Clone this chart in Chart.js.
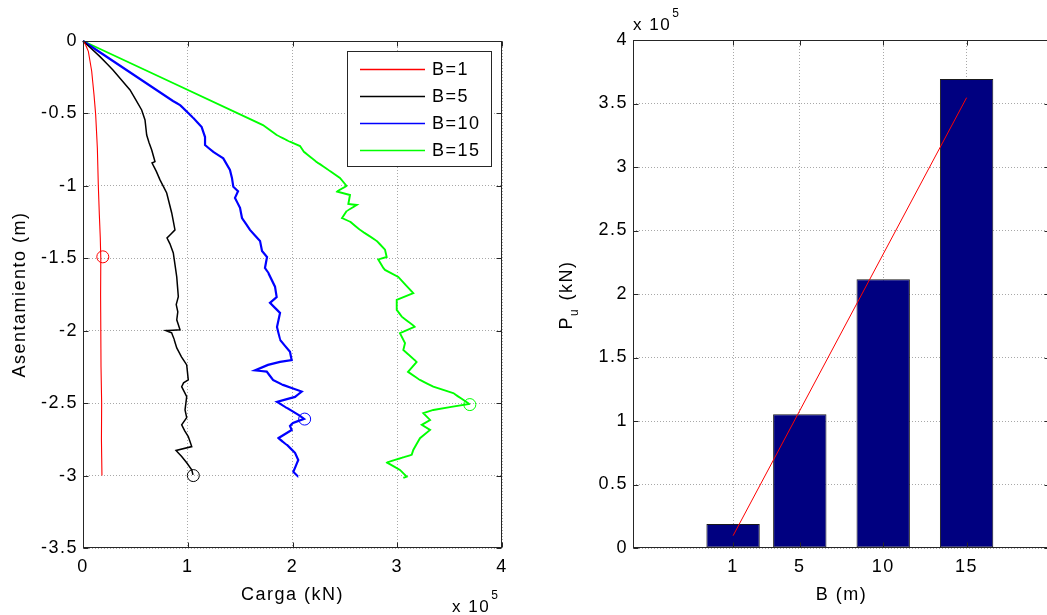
<!DOCTYPE html>
<html>
<head>
<meta charset="utf-8">
<script src="https://cdn.jsdelivr.net/npm/chart.js@4.4.1/dist/chart.umd.min.js"></script>
<style>
  html, body { margin: 0; padding: 0; background: #fff; overflow: hidden; width: 1047px; height: 615px; }
  #izq { position: absolute; left: 0; top: 0; }
  #der { position: absolute; left: 520px; top: 0; }
</style>
</head>
<body>
<canvas id="izq" width="520" height="615"></canvas>
<canvas id="der" width="545" height="615"></canvas>
<script>
// Curvas carga–asentamiento. Carga en unidades de 1e5 kN, asentamiento en m.
const cargaB1 = [0, 0.02, 0.051, 0.083, 0.105, 0.121, 0.137, 0.146, 0.156, 0.165, 0.17, 0.168, 0.17, 0.172, 0.178, 0.176, 0.181];
const asentB1 = [0, -0.02, -0.071, -0.209, -0.37, -0.509, -0.738, -0.992, -1.199, -1.36, -1.5, -1.75, -2.0, -2.25, -2.5, -2.75, -3.0];

const cargaB5 = [0, 0.162, 0.286, 0.449, 0.56, 0.592, 0.608, 0.63, 0.656, 0.687, 0.659, 0.70, 0.735, 0.799, 0.847, 0.878, 0.802, 0.83, 0.862, 0.895, 0.91, 0.89, 0.905, 0.895, 0.926, 0.792, 0.847, 0.87, 0.895, 0.94, 0.99, 1.005, 0.96, 0.942, 0.99, 0.974, 0.99, 0.942, 0.97, 1.005, 1.038, 0.888, 0.942, 0.99, 1.038, 1.05];
const asentB5 = [0, -0.108, -0.2, -0.338, -0.476, -0.545, -0.649, -0.70, -0.752, -0.833, -0.842, -0.90, -0.959, -1.049, -1.187, -1.304, -1.36, -1.40, -1.463, -1.629, -1.765, -1.82, -1.87, -1.925, -1.994, -1.999, -2.015, -2.06, -2.119, -2.18, -2.236, -2.34, -2.36, -2.386, -2.455, -2.547, -2.6, -2.65, -2.69, -2.731, -2.8, -2.827, -2.869, -2.912, -2.961, -2.995];

const cargaB10 = [0, 0.859, 0.926, 1.053, 1.133, 1.165, 1.165, 1.244, 1.339, 1.403, 1.422, 1.435, 1.48, 1.451, 1.499, 1.518, 1.594, 1.69, 1.709, 1.757, 1.737, 1.769, 1.833, 1.849, 1.785, 1.881, 1.852, 1.881, 1.976, 1.992, 1.881, 1.766, 1.642, 1.754, 1.814, 1.909, 2.088, 2.024, 1.852, 1.947, 2.072, 2.11, 2.005, 1.976, 1.992, 1.864, 1.947, 2.024, 2.055, 2.024, 2.008, 2.055];
const asentB10 = [0, -0.414, -0.442, -0.531, -0.594, -0.663, -0.718, -0.766, -0.81, -0.89, -0.945, -1.006, -1.037, -1.083, -1.152, -1.222, -1.304, -1.38, -1.449, -1.491, -1.567, -1.601, -1.696, -1.767, -1.808, -1.877, -1.974, -2.063, -2.146, -2.202, -2.215, -2.236, -2.274, -2.282, -2.34, -2.374, -2.42, -2.457, -2.491, -2.533, -2.588, -2.609, -2.636, -2.657, -2.685, -2.742, -2.788, -2.843, -2.892, -2.947, -2.974, -3.009];

const cargaB15 = [0, 1.718, 1.849, 1.976, 2.072, 2.11, 2.231, 2.358, 2.453, 2.517, 2.422, 2.549, 2.533, 2.613, 2.517, 2.473, 2.549, 2.644, 2.804, 2.883, 2.899, 2.819, 2.867, 2.883, 3.01, 3.153, 2.995, 2.995, 3.043, 3.169, 3.026, 3.074, 3.058, 3.186, 3.103, 3.217, 3.344, 3.535, 3.688, 3.344, 3.249, 3.313, 3.234, 3.313, 3.217, 3.153, 3.138, 2.899, 3.026, 3.09, 3.058];
const asentB15 = [0, -0.58, -0.649, -0.695, -0.725, -0.766, -0.835, -0.897, -0.945, -1.001, -1.039, -1.063, -1.125, -1.132, -1.173, -1.222, -1.246, -1.304, -1.38, -1.44, -1.491, -1.508, -1.567, -1.58, -1.629, -1.741, -1.787, -1.856, -1.903, -1.972, -2.017, -2.086, -2.133, -2.215, -2.284, -2.34, -2.386, -2.431, -2.505, -2.547, -2.569, -2.616, -2.65, -2.685, -2.742, -2.823, -2.857, -2.909, -2.961, -3.007, -3.016];

// Ancho B (m), carga última Pu (1e5 kN) y asentamiento en el que se alcanza
const anchosB = [1, 5, 10, 15];
const etiquetas = ['B=1', 'B=5', 'B=10', 'B=15'];
const cargaUltima = [0.189, 1.053, 2.116, 3.693];
const asentUltimo = [-1.49, -3.0, -2.61, -2.51];

// Recta de ajuste Pu–B
const ajusteB = [1, 15];
const ajustePu = [0.097, 3.546];

// Marcas de los ejes
const ticksCarga = [0, 1, 2, 3, 4];
const ticksAsent = [0, -0.5, -1, -1.5, -2, -2.5, -3, -3.5];
const ticksPu = [0, 0.5, 1, 1.5, 2, 2.5, 3, 3.5, 4];

const colores = ['#ff0000', '#000000', '#0000ff', '#00ff00'];
const grosores = [1.1, 1.5, 2.2, 1.9];
const FUENTE = '"Liberation Sans", Arial, Helvetica, sans-serif';
const ESPACIADO = '1.5px';
const EJE = '#262626';
const REJILLA = '#a8a8a8';

Chart.defaults.font.family = FUENTE;
Chart.defaults.color = '#000';
Chart.defaults.animation = false;

const pares = (xs, ys) => xs.map((x, i) => ({ x: x, y: ys[i] }));
const fmt = v => String(Number(v.toFixed(2)));

// Texto algo espaciado en todo el lienzo
const espaciado = {
  id: 'espaciado',
  beforeInit(chart) { chart.ctx.letterSpacing = ESPACIADO; },
  beforeLayout(chart) { chart.ctx.letterSpacing = ESPACIADO; },
  beforeDraw(chart) { chart.ctx.letterSpacing = ESPACIADO; }
};

// Caja del eje con marcas hacia dentro
const marco = {
  id: 'marco',
  afterDatasetsDraw(chart) {
    const { ctx, chartArea: a, scales: { x, y } } = chart;
    const L = Math.round(a.left) + 0.5, R = Math.round(a.right) - 0.5;
    const T = Math.round(a.top) + 0.5, B = Math.round(a.bottom) - 0.5;
    ctx.save();
    ctx.strokeStyle = EJE;
    ctx.lineWidth = 1;
    ctx.strokeRect(L, T, R - L, B - T);
    ctx.beginPath();
    x.ticks.forEach(t => {
      const p = Math.round(x.getPixelForValue(t.value)) + 0.5;
      ctx.moveTo(p, B); ctx.lineTo(p, B - 5);
      ctx.moveTo(p, T); ctx.lineTo(p, T + 5);
    });
    y.ticks.forEach(t => {
      const p = Math.round(y.getPixelForValue(t.value)) + 0.5;
      ctx.moveTo(L, p); ctx.lineTo(L + 5, p);
      ctx.moveTo(R, p); ctx.lineTo(R - 5, p);
    });
    ctx.stroke();
    ctx.restore();
  }
};

// Leyenda dentro del área de trazado
const leyenda = {
  id: 'leyenda',
  afterDatasetsDraw(chart) {
    const ctx = chart.ctx;
    const curvas = chart.data.datasets.filter(d => d.enLeyenda);
    const x0 = 347.5, y0 = 51.5, w = 144, h = 115;
    ctx.save();
    ctx.fillStyle = '#fff';
    ctx.fillRect(x0, y0, w, h);
    ctx.strokeStyle = EJE;
    ctx.lineWidth = 1;
    ctx.strokeRect(x0, y0, w, h);
    ctx.font = '18px ' + FUENTE;
    ctx.letterSpacing = ESPACIADO;
    ctx.textBaseline = 'middle';
    ctx.textAlign = 'left';
    curvas.forEach((d, i) => {
      const yy = 69.5 + 27 * i;
      ctx.strokeStyle = d.borderColor;
      ctx.lineWidth = 1.3;
      ctx.beginPath();
      ctx.moveTo(360, yy); ctx.lineTo(425, yy);
      ctx.stroke();
      ctx.fillStyle = '#000';
      ctx.fillText(d.label, 432, yy + 1);
    });
    ctx.restore();
  }
};

// Multiplicador "x 10^5" de un eje
function multiplicador(x, y) {
  return {
    id: 'multiplicador',
    afterDraw(chart) {
      const ctx = chart.ctx;
      ctx.save();
      ctx.fillStyle = '#000';
      ctx.letterSpacing = '1.5px';
      ctx.textBaseline = 'alphabetic';
      ctx.textAlign = 'left';
      ctx.font = '17px ' + FUENTE;
      ctx.fillText('x 10', x, y);
      const w = ctx.measureText('x 10').width;
      ctx.font = '12px ' + FUENTE;
      ctx.fillText('5', x + w + 1, y - 13);
      ctx.restore();
    }
  };
}

const datasetsCurvas = [
  [cargaB1, asentB1], [cargaB5, asentB5], [cargaB10, asentB10], [cargaB15, asentB15]
].map((c, i) => ({
  label: etiquetas[i],
  enLeyenda: true,
  data: pares(c[0], c[1]),
  showLine: true,
  borderColor: colores[i],
  borderWidth: grosores[i],
  pointRadius: 0,
  tension: 0.000001,
  clip: 2
}));

new Chart(document.getElementById('izq'), {
  type: 'scatter',
  data: {
    datasets: [
      {
        label: 'Pu',
        data: pares(cargaUltima, asentUltimo),
        showLine: false,
        pointRadius: 6,
        pointBorderWidth: 1,
        pointBackgroundColor: 'rgba(0,0,0,0)',
        pointBorderColor: colores,
        clip: false
      },
      ...datasetsCurvas
    ]
  },
  options: {
    responsive: false,
    devicePixelRatio: 1,
    layout: { padding: { left: 0, top: 41, right: 18, bottom: 0 } },
    plugins: { legend: { display: false }, tooltip: { enabled: false } },
    scales: {
      x: {
        type: 'linear', min: 0, max: 4,
        afterFit: s => { s.height = 67; },
        afterBuildTicks: s => { s.ticks = ticksCarga.map(v => ({ value: v })); },
        ticks: { font: { size: 18 }, padding: 8, callback: fmt, color: '#000' },
        grid: { color: REJILLA, lineWidth: 1, drawTicks: false },
        border: { display: false, dash: [1, 2] },
        title: { display: true, text: 'Carga (kN)', font: { size: 18 }, padding: { top: 0, bottom: 9 } }
      },
      y: {
        type: 'linear', min: -3.5, max: 0,
        afterFit: s => { s.width = 83; },
        afterBuildTicks: s => { s.ticks = ticksAsent.map(v => ({ value: v })); },
        ticks: { font: { size: 18 }, padding: 5, callback: fmt, color: '#000' },
        grid: { color: REJILLA, lineWidth: 1, drawTicks: false },
        border: { display: false, dash: [1, 2] },
        title: { display: true, text: 'Asentamiento (m)', font: { size: 18 }, padding: { top: 9, bottom: 0 } }
      }
    }
  },
  plugins: [espaciado, marco, leyenda, multiplicador(452, 612)]
});

// Título vertical P_u (kN) con subíndice
const tituloPu = {
  id: 'tituloPu',
  afterDraw(chart) {
    const ctx = chart.ctx;
    const base = 52, centro = 295;
    ctx.save();
    ctx.translate(base, centro);
    ctx.rotate(-Math.PI / 2);
    ctx.fillStyle = '#000';
    ctx.letterSpacing = ESPACIADO;
    ctx.textBaseline = 'alphabetic';
    ctx.textAlign = 'left';
    const grande = '18px ' + FUENTE, chica = '12px ' + FUENTE;
    ctx.font = grande; const wP = ctx.measureText('P').width; const wR = ctx.measureText(' (kN)').width;
    ctx.font = chica; const wU = ctx.measureText('u').width;
    let x = -(wP + wU + 1 + wR) / 2;
    ctx.font = grande; ctx.fillText('P', x, 0); x += wP;
    ctx.font = chica; ctx.fillText('u', x, 6); x += wU + 1;
    ctx.font = grande; ctx.fillText(' (kN)', x, 0);
    ctx.restore();
  }
};

new Chart(document.getElementById('der'), {
  type: 'bar',
  data: {
    datasets: [
      {
        type: 'line',
        label: 'ajuste',
        data: pares(ajusteB, ajustePu),
        borderColor: '#ff0000',
        borderWidth: 1,
        pointRadius: 0,
        tension: 0
      },
      {
        type: 'bar',
        label: 'Pu',
        data: pares(anchosB, cargaUltima),
        backgroundColor: '#000080',
        borderColor: '#1a1a1a',
        borderWidth: 1,
        borderSkipped: false,
        barPercentage: 1,
        categoryPercentage: 0.8
      }
    ]
  },
  options: {
    responsive: false,
    devicePixelRatio: 1,
    layout: { padding: { left: 0, top: 40, right: 15, bottom: 0 } },
    plugins: { legend: { display: false }, tooltip: { enabled: false } },
    scales: {
      x: {
        type: 'linear', min: -5, max: 20, offset: false,
        afterFit: s => { s.height = 67; },
        afterBuildTicks: s => { s.ticks = anchosB.map(v => ({ value: v })); },
        ticks: { font: { size: 18 }, padding: 8, callback: fmt, color: '#000' },
        grid: { color: REJILLA, lineWidth: 1, drawTicks: false, offset: false },
        border: { display: false, dash: [1, 2] },
        title: { display: true, text: 'B (m)', font: { size: 18 }, padding: { top: 0, bottom: 9 } }
      },
      y: {
        type: 'linear', min: 0, max: 4,
        afterFit: s => { s.width = 113; },
        afterBuildTicks: s => { s.ticks = ticksPu.map(v => ({ value: v })); },
        ticks: { font: { size: 18 }, padding: 5, callback: fmt, color: '#000' },
        grid: { color: REJILLA, lineWidth: 1, drawTicks: false },
        border: { display: false, dash: [1, 2] }
      }
    }
  },
  plugins: [espaciado, marco, tituloPu, multiplicador(113, 30)]
});
</script>
</body>
</html>
